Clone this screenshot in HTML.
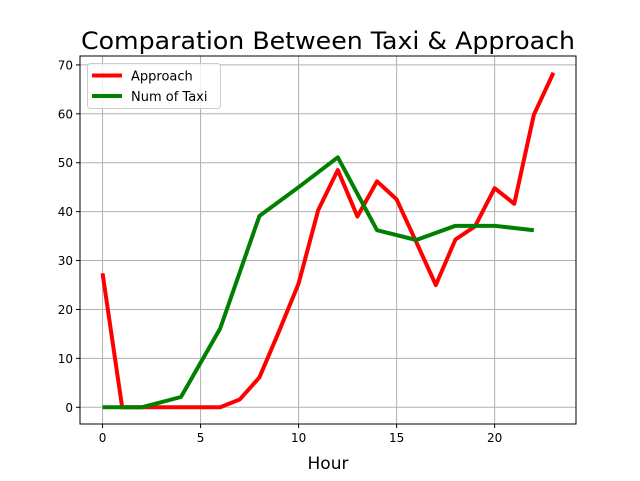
<!DOCTYPE html>
<html><head><meta charset="utf-8"><style>
body{margin:0;background:#fff;}
svg text{font-family:"DejaVu Sans","Liberation Sans",sans-serif;}
</style></head><body>
<svg id="chart" width="640" height="476" xmlns="http://www.w3.org/2000/svg">
<rect width="640" height="476" fill="#fff"/>
<text x="328" y="49" text-anchor="middle" font-size="24" fill="#000" textLength="494" lengthAdjust="spacingAndGlyphs">Comparation Between Taxi &amp; Approach</text>
<g id="grid"></g>
<g id="ticks"></g>
<g id="series"></g>
<rect x="80" y="56" width="496" height="368" fill="none" stroke="#000" stroke-width="1"/>
<text x="328" y="469" text-anchor="middle" font-size="17">Hour</text>
<g>
<rect x="87.5" y="63.5" width="133" height="45" rx="3" fill="#fff" fill-opacity="0.8" stroke="#ccc"/>
<line x1="92" y1="75.5" x2="122" y2="75.5" stroke="#ff0000" stroke-width="4"/>
<text x="131" y="80.5" font-size="13">Approach</text>
<line x1="92" y1="96" x2="122" y2="96" stroke="#008000" stroke-width="4"/>
<text x="131" y="101" font-size="13">Num of Taxi</text>
</g>
</svg>
<script>
const approachHours=[0,1,2,3,4,5,6,7,8,9,10,11,12,13,14,15,16,17,18,19,20,21,22,23];
const approachValues=[27.4,0,0,0,0,0,0,1.6,6.1,15.5,25.3,40.3,48.5,39,46.2,42.5,33.8,25,34.3,37,44.8,41.6,59.8,68.4];
const taxiHours=[0,2,4,6,8,10,12,14,16,18,20,22];
const taxiValues=[0,0,2.1,16.1,39.1,45,51.1,36.2,34.2,37.1,37.1,36.2];
const xTicks=[0,5,10,15,20];
const yTicks=[0,10,20,30,40,50,60,70];
const NS="http://www.w3.org/2000/svg";
const L=80,R=576,T=56,B=424,xmin=-1.15,xmax=24.15,ymin=-3.42,ymax=71.82;
function sx(v){return L+(v-xmin)/(xmax-xmin)*(R-L);}
function sy(v){return B-(v-ymin)/(ymax-ymin)*(B-T);}
function mk(tag,attrs,parent){const e=document.createElementNS(NS,tag);for(const k in attrs)e.setAttribute(k,attrs[k]);parent.appendChild(e);return e;}
const grid=document.getElementById('grid'),ticks=document.getElementById('ticks'),series=document.getElementById('series');
xTicks.forEach(t=>{const x=sx(t);
 const g=mk('line',{x1:x,x2:x,y1:T,y2:B,stroke:'#b0b0b0','stroke-width':1},grid);
 
 
 mk('line',{x1:x,x2:x,y1:B,y2:B+4,stroke:'#000'},ticks);
 const tx=mk('text',{x:x,y:B+18,'text-anchor':'middle','font-size':12},ticks);tx.textContent=t;
 
 
});
yTicks.forEach(t=>{const y=sy(t);
 const g=mk('line',{x1:L,x2:R,y1:y,y2:y,stroke:'#b0b0b0','stroke-width':1},grid);
 
 
 mk('line',{x1:L-4,x2:L,y1:y,y2:y,stroke:'#000'},ticks);
 const tx=mk('text',{x:L-7,y:y+4.5,'text-anchor':'end','font-size':12},ticks);tx.textContent=t;
 
 
});
function line(xs,ys,color,name){
 const p=mk('polyline',{points:xs.map((x,i)=>sx(x)+','+sy(ys[i])).join(' '),fill:'none',stroke:color,'stroke-width':4,'stroke-linejoin':'round'},series);
 
 
}
line(approachHours,approachValues,'#ff0000','approach-line');
line(taxiHours,taxiValues,'#008000','taxi-line');
</script>
</body></html>
